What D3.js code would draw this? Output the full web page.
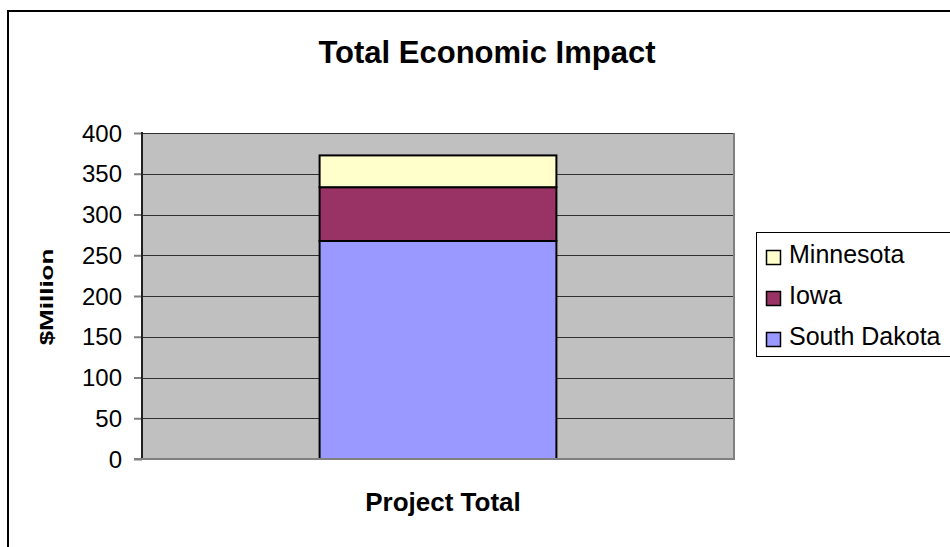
<!DOCTYPE html>
<html>
<head>
<meta charset="utf-8">
<script src="https://cdn.jsdelivr.net/npm/d3@7"></script>
<style>
  html, body { margin: 0; padding: 0; background: #fff; }
  svg { display: block; font-family: Arial, "Liberation Sans", sans-serif; }
</style>
</head>
<body>
<svg id="chart" width="950" height="547"></svg>
<script>
// Economic impact of the project, $ million, stacked by state
const categories = ["Project Total"];
const seriesNames = ["South Dakota", "Iowa", "Minnesota"];
const southDakota = [267.5];
const iowa = [66];
const minnesota = [39];
const yTicks = [0, 50, 100, 150, 200, 250, 300, 350, 400];
const seriesColors = ["#9999FF", "#993366", "#FFFFCC"];

const svg = d3.select("#chart");
const W = 950, H = 547;

// chart frame
svg.append("rect").attr("x", 9).attr("y", 11).attr("width", W + 20).attr("height", H + 20)
  .attr("fill", "none").attr("stroke", "#999").attr("stroke-width", 1);
svg.append("rect").attr("x", 8).attr("y", 11).attr("width", W + 20).attr("height", H + 20)
  .attr("fill", "#fff").attr("stroke", "#000").attr("stroke-width", 2);

const plot = { left: 142, right: 734, top: 133, bottom: 459 };

const x = d3.scaleBand().domain(categories)
  .range([plot.left, plot.right]).paddingInner(0.6).paddingOuter(0.3);
const y = d3.scaleLinear().domain([0, 400]).range([plot.bottom, plot.top]);

// plot background
svg.append("rect").attr("x", plot.left).attr("y", plot.top)
  .attr("width", plot.right - plot.left).attr("height", plot.bottom - plot.top)
  .attr("fill", "#C0C0C0");

// gridlines
svg.append("g").selectAll("line").data(yTicks.filter(d => d > 0)).join("line")
  .attr("x1", plot.left).attr("x2", plot.right)
  .attr("y1", d => Math.round(y(d)) + 0.5).attr("y2", d => Math.round(y(d)) + 0.5)
  .attr("stroke", "#303030").attr("stroke-width", 1);

// right edge of plot area
svg.append("line").attr("x1", plot.right).attr("x2", plot.right)
  .attr("y1", plot.top).attr("y2", plot.bottom + 1)
  .attr("stroke", "#808080").attr("stroke-width", 2);

// stacked bars
const rows = categories.map((c, i) => ({
  cat: c, "South Dakota": southDakota[i], "Iowa": iowa[i], "Minnesota": minnesota[i]
}));
const stack = d3.stack().keys(seriesNames)(rows);
svg.append("g").selectAll("g").data(stack).join("g")
  .attr("fill", (d, i) => seriesColors[i])
  .selectAll("rect").data(d => d).join("rect")
  .attr("x", d => x(d.data.cat))
  .attr("width", x.bandwidth())
  .attr("y", d => y(d[1]))
  .attr("height", d => y(d[0]) - y(d[1]))
  .attr("stroke", "#000").attr("stroke-width", 2);

// y axis
const yAxis = svg.append("g").attr("transform", `translate(${plot.left},0)`)
  .call(d3.axisLeft(y).tickValues(yTicks).tickSize(8).tickPadding(12).tickFormat(d3.format("d")));
yAxis.select(".domain").remove();
yAxis.selectAll(".tick line").attr("stroke", "#808080").attr("stroke-width", 2);
yAxis.selectAll(".tick text").attr("font-size", 24).attr("fill", "#000")
  .attr("font-family", "Arial, 'Liberation Sans', sans-serif").attr("dy", "0.34em");
svg.append("line").attr("x1", plot.left).attr("x2", plot.left)
  .attr("y1", plot.top - 1).attr("y2", plot.bottom + 1)
  .attr("stroke", "#202020").attr("stroke-width", 2);

// x axis line
svg.append("line").attr("x1", plot.left - 8).attr("x2", plot.right + 1)
  .attr("y1", plot.bottom).attr("y2", plot.bottom)
  .attr("stroke", "#808080").attr("stroke-width", 2);

// title
svg.append("text").attr("x", 487).attr("y", 63).attr("text-anchor", "middle")
  .attr("font-size", 31).attr("font-weight", "bold").text("Total Economic Impact");

// x axis category label
svg.append("text").attr("x", (x(categories[0]) + x.bandwidth() / 2) + 5).attr("y", 511)
  .attr("text-anchor", "middle").attr("font-size", 26).attr("font-weight", "bold")
  .text(categories[0]);

// y axis title (narrow bold lettering)
svg.append("text").attr("transform", "translate(53,297) rotate(-90) scale(1,0.72)")
  .attr("text-anchor", "middle").attr("font-size", 26).attr("font-weight", "bold")
  .text("$Million");

// legend
const legend = svg.append("g");
legend.append("rect").attr("x", 756.5).attr("y", 232.5).attr("width", 220).attr("height", 124)
  .attr("fill", "#fff").attr("stroke", "#000").attr("stroke-width", 1);
const legendOrder = seriesNames.slice().reverse();
const legendItems = legend.selectAll("g.item").data(legendOrder).join("g")
  .attr("class", "item")
  .attr("transform", (d, i) => `translate(0,${i * 41})`);
legendItems.append("rect").attr("x", 766.5).attr("y", 250.5).attr("width", 14).attr("height", 14)
  .attr("fill", d => seriesColors[seriesNames.indexOf(d)]).attr("stroke", "#000").attr("stroke-width", 1.5);
legendItems.append("text").attr("x", 789).attr("y", 263).attr("font-size", 25).text(d => d);
</script>
</body>
</html>
